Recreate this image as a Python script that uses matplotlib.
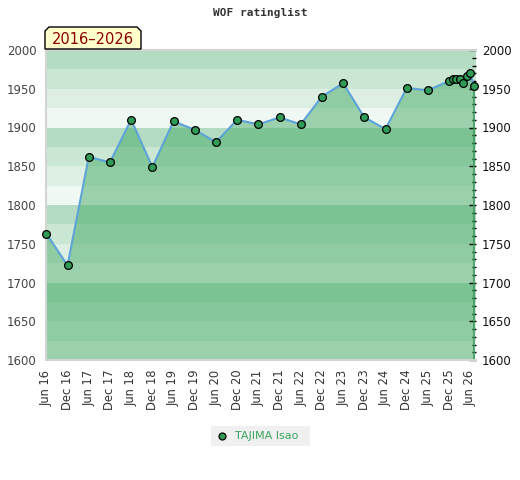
import matplotlib
matplotlib.use("Agg")
import matplotlib.pyplot as plt
from matplotlib.patches import Polygon, Rectangle
from matplotlib.lines import Line2D
from matplotlib.ticker import MultipleLocator
import matplotlib.transforms as mtransforms

# months after Jun 2016 and the rating at each list
months = [0, 6, 12, 18, 24, 30, 36, 42, 48, 54, 60, 66, 72, 78, 84, 90, 96,
          102, 108, 114, 115, 116, 117, 118, 119, 120, 121]
ratings = [1763, 1722, 1862, 1855, 1910, 1849, 1908, 1897, 1881, 1910, 1904,
           1913, 1904, 1940, 1957, 1913, 1898, 1951, 1948, 1960, 1962, 1962,
           1962, 1957, 1966, 1970, 1953]
tick_months = [0, 6, 12, 18, 24, 30, 36, 42, 48, 54, 60, 66, 72, 78, 84, 90,
               96, 102, 108, 114, 120]
tick_labels = ["Jun 16", "Dec 16", "Jun 17", "Dec 17", "Jun 18", "Dec 18",
               "Jun 19", "Dec 19", "Jun 20", "Dec 20", "Jun 21", "Dec 21",
               "Jun 22", "Dec 22", "Jun 23", "Dec 23", "Jun 24", "Dec 24",
               "Jun 25", "Dec 25", "Jun 26"]
y_ticks = [1600, 1650, 1700, 1750, 1800, 1850, 1900, 1950, 2000]
player = "TAJIMA Isao"
period = "2016\u20132026"

band_colors = ["#f0f8f3", "#dcefe2", "#c9e7d3", "#b3dcc2"]
fill_color = (69 / 255, 171 / 255, 102 / 255)
marker_color = "#2f9b57"

fig = plt.figure(figsize=(5.2, 4.8), dpi=100)
ax = fig.add_axes([46 / 520, 120 / 480, 430 / 520, 310 / 480])

# striped background, 25 points per stripe
for base in range(1600, 2000, 25):
    ax.axhspan(base, base + 25, color=band_colors[(base // 25) % 4], lw=0, zorder=0)

ax.fill_between(months, ratings, 1600, facecolor=fill_color, alpha=0.5,
                edgecolor="none", zorder=1)
ax.vlines([months[0], months[-1]], 1600, [ratings[0], ratings[-1]],
          color="#3a9a5a", lw=1.2, zorder=2)
ax.plot(months, ratings, color="#5da3d8", lw=1.5, zorder=3)
ax.plot(months, ratings, ls="none", marker="o", ms=5.6, mfc=marker_color,
        mec="black", mew=0.9, zorder=4, clip_on=False)

ax.set_xlim(-0.1, 121.6)
ax.set_ylim(1600, 2000)
ax.set_xticks(tick_months)
ax.set_xticklabels(tick_labels, rotation=90, fontsize=8.3, color="#333333")
ax.set_yticks(y_ticks)
ax.tick_params(axis="x", length=0, pad=7)
ax.tick_params(axis="y", which="both", left=False, right=True, labelleft=True,
               labelright=False, direction="in", labelsize=8.5, color="black",
               width=1, pad=7, labelcolor="#444444")
ax.tick_params(axis="y", which="major", length=5)
ax.tick_params(axis="y", which="minor", length=3)
ax.yaxis.set_minor_locator(MultipleLocator(10))

# right-hand labels sit closer to the plot than the left ones
right_tr = mtransforms.blended_transform_factory(ax.transAxes, ax.transData)
for v in y_ticks:
    ax.text(1.0135, v, str(v), transform=right_tr, ha="left",
            va="center_baseline", fontsize=8.5, color="#111111", clip_on=False)

for side in ["left", "bottom", "top"]:
    ax.spines[side].set_color("#d4d4d4")
    ax.spines[side].set_linewidth(1.5)
ax.spines["right"].set_visible(False)

fig.text(260 / 520, 1 - 13 / 480, "WOF ratinglist", ha="center", va="center",
         family="DejaVu Sans Mono", fontweight="bold", fontsize=8,
         color="#333333")

# period label with cut corners
W, H = 520, 480
x0, x1, y0, y1, c = 45, 141, 49, 27, 4
pts = [(x0, y0), (x0, y1 + c), (x0 + c, y1), (x1 - c, y1), (x1, y1 + c), (x1, y0)]
box = Polygon([(x / W, 1 - y / H) for x, y in pts], closed=True,
              transform=fig.transFigure, facecolor="#ffffcc", edgecolor="black",
              lw=1, zorder=5)
fig.patches.append(box)
fig.text(93 / W, 1 - 39 / H, period, ha="center", va="center", fontsize=10.5,
         color="#8b0000", zorder=6)

# legend
fig.patches.append(Rectangle((211 / W, 1 - 446 / H), 99 / W, 20 / H,
                             transform=fig.transFigure, facecolor="#f0f0f0",
                             edgecolor="none"))
fig.lines.append(Line2D([222 / W], [1 - 436 / H], transform=fig.transFigure,
                        marker="o", ms=5, mfc=marker_color, mec="black", mew=0.9))
fig.text(235 / W, 1 - 436 / H, player, ha="left", va="center", fontsize=8,
         color="#3aa35e")

fig.savefig("out.png", dpi=100)
